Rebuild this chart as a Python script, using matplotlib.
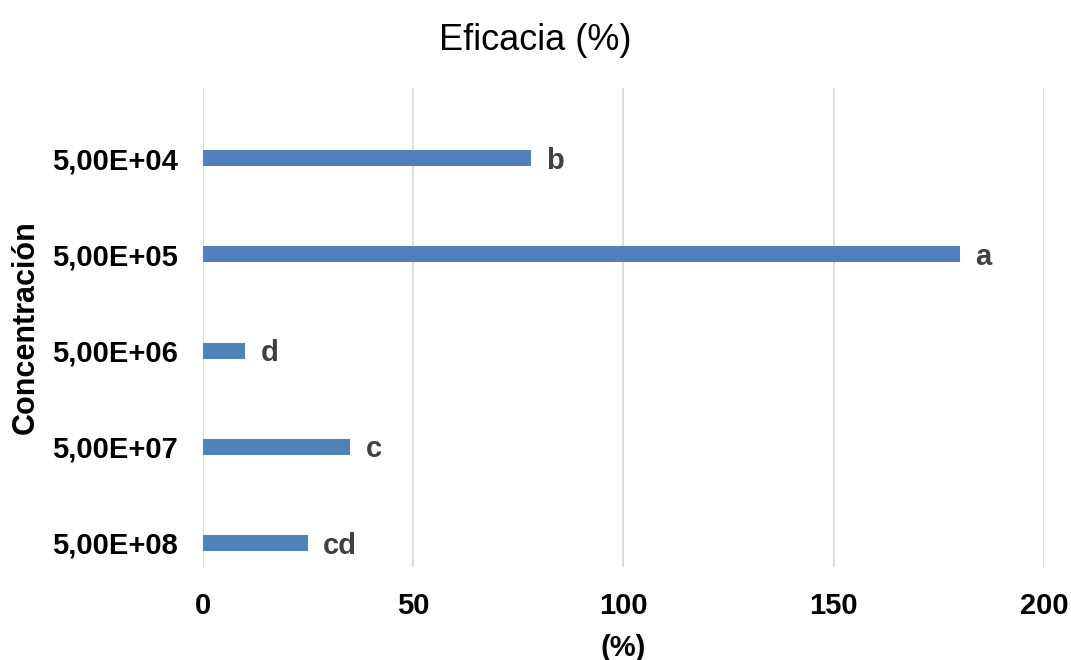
import matplotlib
matplotlib.use('Agg')
import matplotlib.pyplot as plt

# Data
categorias = ['5,00E+04', '5,00E+05', '5,00E+06', '5,00E+07', '5,00E+08']
eficacia = [78, 180, 10, 35, 25]
letras = ['b', 'a', 'd', 'c', 'cd']
x_ticks = [0, 50, 100, 150, 200]

plt.rcParams['font.family'] = ['Liberation Sans', 'DejaVu Sans']

fig = plt.figure(figsize=(10.71, 6.6), dpi=100)
ax = fig.add_axes([0.1895, 0.141, 0.7853, 0.7257])

pos = list(range(len(categorias)))
ax.barh(pos, eficacia, height=0.166, color='#4F81BD', zorder=3)

for p, v, l in zip(pos, eficacia, letras):
    ax.annotate(l, xy=(v, p), xytext=(11, -2), textcoords='offset points',
                ha='left', va='center', fontsize=21, fontweight='bold',
                color='#404040')

ax.set_xlim(0, 200)
ax.set_ylim(4.25, -0.73)
ax.set_xticks(x_ticks)
ax.set_yticks(pos)
ax.set_yticklabels(categorias)
ax.tick_params(axis='both', length=0, labelsize=21, pad=18)
for lbl in ax.get_xticklabels() + ax.get_yticklabels():
    lbl.set_fontweight('bold')

ax.grid(axis='x', color='#D9D9D9', linewidth=1.3, zorder=0)
for s in ax.spines.values():
    s.set_visible(False)

ax.set_xlabel('(%)', fontsize=21, fontweight='bold', labelpad=10)
ax.set_ylabel('Concentración', fontsize=22, fontweight='bold', labelpad=8)
fig.suptitle('Eficacia (%)', fontsize=26, y=0.965)

fig.savefig('out.png', dpi=100)
